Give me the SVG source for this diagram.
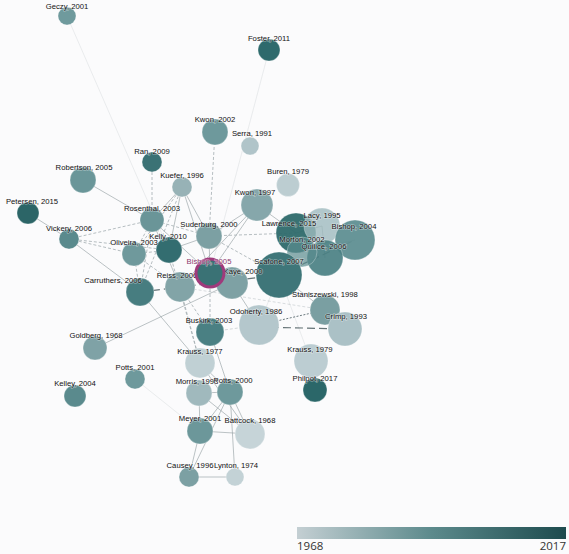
<svg xmlns="http://www.w3.org/2000/svg" width="569" height="554" viewBox="0 0 569 554">
<style>
.bg{fill:#fbfbfc}
.n{stroke:#ffffff;stroke-opacity:.5;stroke-width:.6}
.l{font-family:"Liberation Sans",Arial,sans-serif;font-size:7.7px;fill:#111111;text-anchor:middle;paint-order:stroke;stroke:#fbfbfc;stroke-width:1.2px;stroke-opacity:.5}
.s{stroke:#8f9a9e;stroke-width:.8;fill:none;stroke-opacity:.75}
.f{stroke:#c3c9cc;stroke-width:.7;fill:none;stroke-opacity:.45}
.d{stroke:#a3adb1;stroke-width:.8;fill:none;stroke-dasharray:3 2}
.k{stroke:#4a5a5e;stroke-width:1.2;fill:none;stroke-dasharray:8 4;stroke-opacity:.85}
.t{stroke:#5b6b70;stroke-width:.9;fill:none;stroke-dasharray:2 1.5}
.leg{font-family:"Open Sans","Liberation Sans",sans-serif;font-size:11.5px;fill:#333}
</style>
<defs>
<linearGradient id="grad" x1="0" x2="1" y1="0" y2="0">
<stop offset="0" stop-color="#c4cfd3"/>
<stop offset="0.5" stop-color="#5c8a8c"/>
<stop offset="1" stop-color="#1d4b4e"/>
</linearGradient>
</defs>
<rect class="bg" x="0" y="0" width="569" height="554"/>
<g id="connectors">
<line class="f" x1="67" y1="16" x2="169" y2="250"/>
<line class="f" x1="269" y1="50" x2="210" y2="273" stroke-opacity=".15"/>
<line class="s" x1="83" y1="180" x2="152" y2="220"/>
<line class="s" x1="28" y1="213" x2="69" y2="239"/>
<line class="s" x1="69" y1="239" x2="140" y2="292"/>
<line class="s" x1="182" y1="187" x2="152" y2="220"/>
<line class="s" x1="182" y1="187" x2="169" y2="250"/>
<line class="s" x1="182" y1="187" x2="210" y2="273"/>
<line class="s" x1="182" y1="187" x2="209" y2="236"/>
<line class="s" x1="257" y1="205" x2="210" y2="273"/>
<line class="s" x1="257" y1="205" x2="296" y2="233"/>
<line class="s" x1="257" y1="205" x2="209" y2="236"/>
<line class="s" x1="257" y1="205" x2="180" y2="287"/>
<line class="s" x1="209" y1="236" x2="210" y2="273"/>
<line class="s" x1="209" y1="236" x2="169" y2="250"/>
<line class="s" x1="152" y1="220" x2="180" y2="287"/>
<line class="s" x1="152" y1="220" x2="210" y2="273"/>
<line class="s" x1="95" y1="348" x2="232" y2="283"/>
<line class="s" x1="140" y1="292" x2="200" y2="363"/>
<line class="s" x1="200" y1="363" x2="230" y2="392"/>
<line class="s" x1="200" y1="363" x2="250" y2="434"/>
<line class="s" x1="232" y1="283" x2="259" y2="325"/>
<line class="s" x1="210" y1="332" x2="230" y2="392"/>
<line class="s" x1="199" y1="393" x2="230" y2="392"/>
<line class="s" x1="199" y1="393" x2="200" y2="431"/>
<line class="s" x1="199" y1="393" x2="250" y2="434"/>
<line class="s" x1="230" y1="392" x2="200" y2="431"/>
<line class="s" x1="230" y1="392" x2="250" y2="434"/>
<line class="s" x1="230" y1="392" x2="189" y2="477"/>
<line class="s" x1="230" y1="392" x2="235" y2="477"/>
<line class="s" x1="200" y1="431" x2="250" y2="434"/>
<line class="s" x1="200" y1="431" x2="189" y2="477"/>
<line class="s" x1="189" y1="477" x2="235" y2="477"/>
<line class="f" x1="135" y1="379" x2="200" y2="431"/>
<line class="s" x1="279" y1="275" x2="325" y2="310"/>
<line class="f" x1="279" y1="275" x2="259" y2="325"/>
<line class="f" x1="311" y1="361" x2="279" y2="275"/>
<line class="s" x1="322" y1="226" x2="296" y2="233"/>
<line class="s" x1="322" y1="226" x2="325" y2="258"/>
<line class="s" x1="302" y1="252" x2="355" y2="240"/>
<line class="d" x1="215" y1="132" x2="209" y2="236"/>
<line class="d" x1="152" y1="162" x2="152" y2="220"/>
<line class="d" x1="69" y1="239" x2="152" y2="220"/>
<line class="d" x1="69" y1="239" x2="134" y2="254"/>
<line class="d" x1="69" y1="239" x2="169" y2="250"/>
<line class="d" x1="182" y1="187" x2="134" y2="254"/>
<line class="d" x1="182" y1="187" x2="140" y2="292"/>
<line class="d" x1="134" y1="254" x2="152" y2="220"/>
<line class="d" x1="134" y1="254" x2="169" y2="250"/>
<line class="d" x1="134" y1="254" x2="180" y2="287"/>
<line class="d" x1="134" y1="254" x2="140" y2="292"/>
<line class="d" x1="152" y1="220" x2="140" y2="292"/>
<line class="d" x1="152" y1="220" x2="209" y2="236"/>
<line class="d" x1="152" y1="220" x2="169" y2="250"/>
<line class="d" x1="209" y1="236" x2="296" y2="233"/>
<line class="d" x1="209" y1="236" x2="279" y2="275"/>
<line class="d" x1="210" y1="332" x2="210" y2="273"/>
<line class="d" x1="210" y1="332" x2="180" y2="287"/>
<line class="d" x1="200" y1="363" x2="180" y2="287"/>
<line class="d" x1="200" y1="363" x2="169" y2="250"/>
<line class="d" x1="210" y1="332" x2="259" y2="325" stroke-opacity=".6"/>
<line class="d" x1="325" y1="310" x2="180" y2="287" stroke-opacity=".5"/>
<line class="t" x1="259" y1="325" x2="325" y2="310"/>
<line class="k" x1="140" y1="292" x2="279" y2="275"/>
<line class="k" x1="279" y1="275" x2="355" y2="240"/>
<line class="k" x1="259" y1="327" x2="345" y2="329"/>
</g>
<g id="node-geczy-2001"><circle class="n" cx="67" cy="16" r="9" fill="#6f9a9d"/><text class="l" x="67" y="9">Geczy, 2001</text></g>
<g id="node-foster-2011"><circle class="n" cx="269" cy="50" r="11" fill="#2e6a6c"/><text class="l" x="269" y="41">Foster, 2011</text></g>
<g id="node-kwon-2002"><circle class="n" cx="215" cy="132" r="13" fill="#6e999c"/><text class="l" x="215" y="122">Kwon, 2002</text></g>
<g id="node-serra-1991"><circle class="n" cx="250" cy="146" r="9" fill="#b0c4c9"/><text class="l" x="252" y="136">Serra, 1991</text></g>
<g id="node-ran-2009"><circle class="n" cx="152" cy="162" r="10" fill="#3b7275"/><text class="l" x="152" y="154">Ran, 2009</text></g>
<g id="node-robertson-2005"><circle class="n" cx="83" cy="180" r="13" fill="#6a9699"/><text class="l" x="84" y="170">Robertson, 2005</text></g>
<g id="node-kuefer-1996"><circle class="n" cx="182" cy="187" r="10" fill="#97b2b6"/><text class="l" x="182" y="178">Kuefer, 1996</text></g>
<g id="node-buren-1979"><circle class="n" cx="288" cy="185" r="11.5" fill="#bccdd1"/><text class="l" x="288" y="174">Buren, 1979</text></g>
<g id="node-petersen-2015"><circle class="n" cx="28" cy="213" r="11" fill="#2c6567"/><text class="l" x="32" y="204">Petersen, 2015</text></g>
<g id="node-kwon-1997"><circle class="n" cx="257" cy="205" r="16" fill="#86a7ab"/><text class="l" x="255" y="195">Kwon, 1997</text></g>
<g id="node-rosenthal-2003"><circle class="n" cx="152" cy="220" r="12" fill="#6a9598"/><text class="l" x="152" y="211">Rosenthal, 2003</text></g>
<g id="node-vickery-2006"><circle class="n" cx="69" cy="239" r="10" fill="#5a8a8d"/><text class="l" x="69" y="231">Vickery, 2006</text></g>
<g id="node-suderburg-2000"><circle class="n" cx="209" cy="236" r="13" fill="#7ca0a3"/><text class="l" x="209" y="227">Suderburg, 2000</text></g>
<g id="node-lawrence-2015"><circle class="n" cx="296" cy="233" r="20" fill="#2e6a6c" fill-opacity=".95"/></g>
<g id="node-lacy-1995"><circle class="n" cx="322" cy="226" r="18" fill="#9fbabe" fill-opacity=".8"/></g>
<g id="node-bishop-2004"><circle class="n" cx="355" cy="240" r="20" fill="#5f8f92" fill-opacity=".95"/></g>
<g id="node-quilice-2006"><circle class="n" cx="325" cy="258" r="18" fill="#4a8083" fill-opacity=".92"/></g>
<g id="node-morton-2002"><circle class="n" cx="302" cy="252" r="15" fill="#5a8b8e" fill-opacity=".7"/></g>
<g id="node-scafone-2007"><circle class="n" cx="279" cy="275" r="23" fill="#3f7679"/><text class="l" x="279" y="264">Scafone, 2007</text></g>
<g id="node-kelly-2010"><circle class="n" cx="169" cy="250" r="13" fill="#336d70"/><text class="l" x="168" y="239">Kelly, 2010</text></g>
<g id="node-oliveira-2003"><circle class="n" cx="134" cy="254" r="12" fill="#6f999c"/><text class="l" x="134" y="245">Oliveira, 2003</text></g>
<g id="node-reiss-2006"><circle class="n" cx="180" cy="287" r="15" fill="#82a4a7"/><text class="l" x="177" y="278">Reiss, 2006</text></g>
<g id="node-kaye-2000"><circle class="n" cx="232" cy="283" r="16" fill="#7ea1a4"/><text class="l" x="243" y="274">Kaye, 2000</text></g>
<g id="node-bishop-2005"><circle cx="210" cy="273" r="14" fill="#3a7275" stroke="#a03a7c" stroke-width="3"/><text class="l" x="209" y="264" style="fill:#8e3a6e">Bishop, 2005</text></g>
<g id="node-carruthers-2006"><circle class="n" cx="140" cy="292" r="14" fill="#477d80"/><text class="l" x="113" y="283">Carruthers, 2006</text></g>
<g id="node-cluster-labels"><text class="l" x="322" y="218">Lacy, 1995</text><text class="l" x="289" y="226">Lawrence, 2015</text><text class="l" x="354" y="229">Bishop, 2004</text><text class="l" x="302" y="242">Morton, 2002</text><text class="l" x="324" y="249">Quilice, 2006</text></g>
<g id="node-staniszewski-1998"><circle class="n" cx="325" cy="310" r="15" fill="#7a9fa2"/><text class="l" x="325" y="297">Staniszewski, 1998</text></g>
<g id="node-odoherty-1986"><circle class="n" cx="259" cy="325" r="20" fill="#b4c7cc"/><text class="l" x="256" y="314">Odoherty, 1986</text></g>
<g id="node-crimp-1993"><circle class="n" cx="345" cy="329" r="17" fill="#abc1c6"/><text class="l" x="346" y="319">Crimp, 1993</text></g>
<g id="node-buskirk-2003"><circle class="n" cx="210" cy="332" r="14" fill="#4a8083"/><text class="l" x="209" y="323">Buskirk, 2003</text></g>
<g id="node-goldberg-1968"><circle class="n" cx="95" cy="348" r="12" fill="#7fa2a6"/><text class="l" x="96" y="338">Goldberg, 1968</text></g>
<g id="node-krauss-1977"><circle class="n" cx="200" cy="363" r="15" fill="#c0d0d4"/><text class="l" x="200" y="354">Krauss, 1977</text></g>
<g id="node-krauss-1979"><circle class="n" cx="311" cy="361" r="17" fill="#bccdd2"/><text class="l" x="310" y="352">Krauss, 1979</text></g>
<g id="node-potts-2001"><circle class="n" cx="135" cy="379" r="10" fill="#6e999c"/><text class="l" x="135" y="370">Potts, 2001</text></g>
<g id="node-philpot-2017"><circle class="n" cx="315" cy="390" r="12" fill="#2b6769"/><text class="l" x="315" y="381">Philpot, 2017</text></g>
<g id="node-kelley-2004"><circle class="n" cx="75" cy="396" r="11" fill="#5a8a8d"/><text class="l" x="75" y="386">Kelley, 2004</text></g>
<g id="node-morris-1993"><circle class="n" cx="199" cy="393" r="13" fill="#a0b9bd"/><text class="l" x="197" y="384">Morris, 1993</text></g>
<g id="node-potts-2000"><circle class="n" cx="230" cy="392" r="13" fill="#6e999c"/><text class="l" x="233" y="383">Potts, 2000</text></g>
<g id="node-meyer-2001"><circle class="n" cx="200" cy="431" r="13" fill="#6c979a"/><text class="l" x="200" y="421">Meyer, 2001</text></g>
<g id="node-battcock-1968"><circle class="n" cx="250" cy="434" r="15" fill="#c6d4d8"/><text class="l" x="250" y="423">Battcock, 1968</text></g>
<g id="node-causey-1996"><circle class="n" cx="189" cy="477" r="10" fill="#7ca0a3"/><text class="l" x="190" y="468">Causey, 1996</text></g>
<g id="node-lynton-1974"><circle class="n" cx="235" cy="477" r="9" fill="#c3d2d6"/><text class="l" x="236" y="468">Lynton, 1974</text></g>
<g id="legend">
<rect x="297" y="527" width="269" height="12" fill="url(#grad)"/>
<text class="leg" x="297" y="550">1968</text>
<text class="leg" x="566" y="550" text-anchor="end">2017</text>
</g>
</svg>
